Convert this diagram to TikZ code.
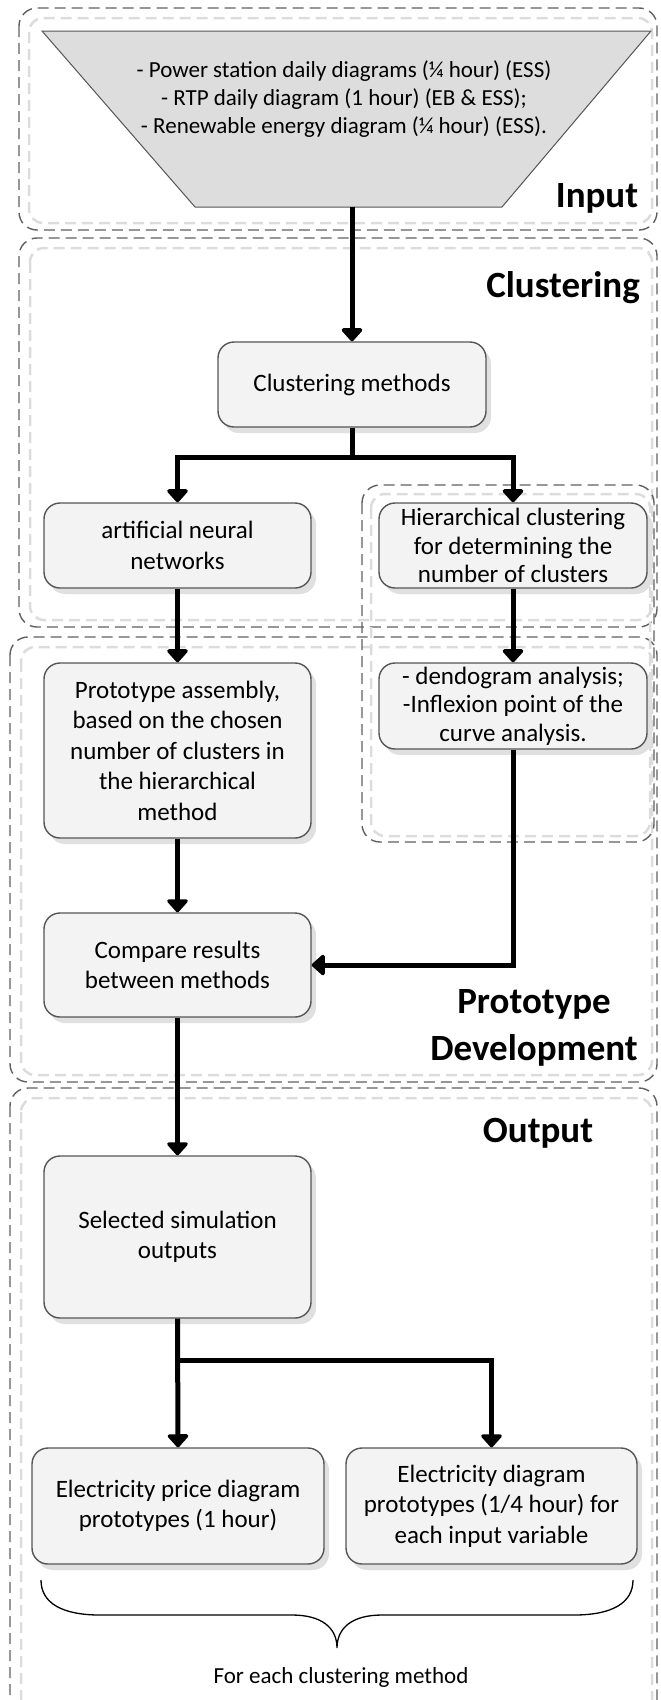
\documentclass[tikz,border=0pt]{standalone}
\usepackage{fontspec}
\setmainfont{Carlito}
\usetikzlibrary{arrows.meta,shadows}
\definecolor{boxfill}{HTML}{F3F3F3}
\definecolor{boxdraw}{HTML}{555555}
\definecolor{trapfill}{HTML}{DDDDDD}
\definecolor{grpdark}{HTML}{606060}
\definecolor{grplight}{HTML}{DCDCDC}
\begin{document}
\begin{tikzpicture}[x=1pt,y=-1pt,
  proc/.style={draw=boxdraw, line width=1.4pt, fill=boxfill, rounded corners=16pt, align=center, inner sep=0pt,
    font=\fontsize{25}{30.5}\selectfont,
    drop shadow={shadow xshift=5pt, shadow yshift=-6pt, fill=black!12, opacity=1}},
  arr/.style={line width=5pt, -{Triangle[round, length=14pt, width=24pt]}, line join=miter},
  grpout/.style={draw=grpdark, line width=1.4pt, dash pattern=on 11pt off 6pt, rounded corners=18pt},
  grpin/.style={draw=grplight, line width=2.5pt, dash pattern=on 11pt off 6pt, rounded corners=14pt},
  title/.style={font=\fontsize{37}{46}\selectfont\bfseries, anchor=base, align=center}
]
\useasboundingbox (0,0) rectangle (661,1700);
\clip (0,0) rectangle (661,1700);

% groups
\draw[grpout] (19,8) rectangle (657,230);
\draw[grpin] (29,18) rectangle (652,223);
\draw[grpout] (19,238) rectangle (657,627);
\draw[grpin] (30,248) rectangle (652,620);
\draw[grpout] (10,637) rectangle (657,1082);
\draw[grpin] (21,647) rectangle (652,1075);
\draw[grpout] (10,1088) rectangle (657,1725);
\draw[grpin] (21,1098) rectangle (652,1718);
\draw[grpout] (362,485) rectangle (654,842);
\draw[grpin] (371,494) rectangle (650,836);

% group titles
\node[title] (tinput) at (597,207) {Input};
\node[title] (tclust) at (563,297) {Clustering};
\node[title] (tproto1) at (534,1013) {Prototype};
\node[title] (tproto2) at (534,1060) {Development};
\node[title] (toutput) at (538,1142) {Output};

% input trapezoid
\draw[draw=boxdraw, line width=1pt, fill=trapfill] (42,31) -- (651,31) -- (502,207) -- (195,207) -- cycle;
\node[font=\fontsize{23}{28}\selectfont, align=center] (input) at (344,99)
  {- Power station daily diagrams (¼ hour) (ESS)\\- RTP daily diagram (1 hour) (EB \& ESS);\\- Renewable energy diagram (¼ hour) (ESS).};
\coordinate (inbot) at (352,207);

% process boxes
\node[proc, minimum width=268pt, minimum height=85pt] (cm) at (352,384.5) {Clustering methods};
\node[proc, minimum width=267pt, minimum height=85pt] (ann) at (177.5,545.5) {artificial neural\\networks};
\node[proc, minimum width=268pt, minimum height=85pt, font=\fontsize{25}{28.5}\selectfont] (hier) at (513,545.5) {Hierarchical clustering\\for determining the\\number of clusters};
\node[proc, minimum width=267pt, minimum height=175pt] (proto) at (177.5,750.5) {Prototype assembly,\\based on the chosen\\number of clusters in\\the hierarchical\\method};
\node[proc, minimum width=268pt, minimum height=86pt, font=\fontsize{25}{28.5}\selectfont] (dendo) at (513,706) {- dendogram analysis;\\-Inflexion point of the\\curve analysis.};
\node[proc, minimum width=267pt, minimum height=104pt] (compare) at (177.5,965) {Compare results\\between methods};
\node[proc, minimum width=267pt, minimum height=162pt] (selected) at (177.5,1237) {Selected simulation\\outputs};
\node[proc, minimum width=292pt, minimum height=116pt] (price) at (178,1506) {Electricity price diagram\\prototypes (1 hour)};
\node[proc, minimum width=291pt, minimum height=116pt] (ediag) at (491.5,1506) {Electricity diagram\\prototypes (1/4 hour) for\\each input variable};

% connectors
\draw[arr] (inbot) -- (cm.north);
\draw[arr] (cm.south) -- ++(0,30) -| (ann.north);
\draw[arr] (cm.south) -- ++(0,30) -| (hier.north);
\draw[arr] (ann.south) -- (proto.north);
\draw[arr] (hier.south) -- (dendo.north);
\draw[arr] (proto.south) -- (compare.north);
\draw[arr] (dendo.south) |- (compare.east);
\draw[arr] (compare.south) -- (selected.north);
\draw[arr] (selected.south) -- (price.north);
\draw[arr] (selected.south) -- ++(0,42) -| (ediag.north);

% brace
\draw[line width=1.3pt] (41,1580) .. controls (41,1603) and (62,1615) .. (100,1615) -- (292,1615)
  .. controls (322,1615) and (337,1628) .. (337,1648)
  .. controls (337,1628) and (352,1615) .. (382,1615) -- (574,1615)
  .. controls (612,1615) and (633,1603) .. (633,1580);
\node[font=\fontsize{23}{28}\selectfont] (foreach) at (341,1677) {For each clustering method};
\end{tikzpicture}
\end{document}
